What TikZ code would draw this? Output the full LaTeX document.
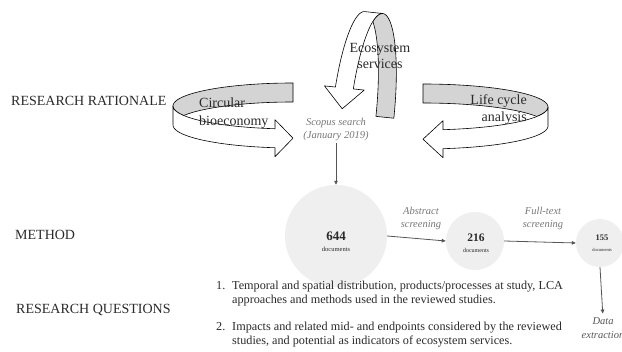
\documentclass[tikz,border=0pt]{standalone}
\usepackage{fontspec}
\setmainfont{Liberation Serif}
\usetikzlibrary{arrows.meta}
\definecolor{bandgray}{HTML}{D4D4D4}
\definecolor{circfill}{HTML}{EFEFEF}
\definecolor{flowgray}{HTML}{555555}
\definecolor{notegray}{HTML}{777777}
\definecolor{inkgray}{HTML}{2A2A2A}
\begin{document}
\begin{tikzpicture}[x=1pt,y=-1pt,
  ribbon/.style={draw=black,line width=0.6pt,line join=round},
  backband/.style={ribbon,fill=bandgray},
  frontband/.style={ribbon,fill=white},
  heading/.style={inner sep=0pt,anchor=base west,text=inkgray,font=\fontsize{14}{16}\selectfont},
  bandlabel/.style={inner sep=0pt,text=inkgray,font=\fontsize{14}{16}\selectfont},
  note/.style={inner sep=0pt,align=center,text=notegray,font=\fontsize{10.5}{13}\selectfont\itshape},
  docs/.style={circle,fill=circfill,inner sep=0pt,minimum size=#1},
  docstext/.style={inner sep=0pt,align=center,text=inkgray},
  flow/.style={draw=flowgray,line width=0.8pt,-{Triangle[length=4pt,width=3.5pt]}},
  qtext/.style={inner sep=0pt,anchor=base west,text=inkgray,font=\fontsize{12.2}{14}\selectfont},
]
\useasboundingbox (0,0) rectangle (622,352);

% ---- Circular bioeconomy ribbon ----
\draw[backband] plot[domain=90:204.4,samples=40,variable=\t] ({293+120*cos(\t)},{106-23*sin(\t)})
  -- plot[domain=155.6:90,samples=30,variable=\t] ({293+120*cos(\t)},{125-23*sin(\t)}) -- cycle;
\draw[frontband] plot[domain=180:261.4,samples=40,variable=\t] ({293+120*cos(\t)},{106-23*sin(\t)})
  -- (275,119.7) -- (293,138.2) -- (275,156.7)
  -- plot[domain=261.4:180,samples=40,variable=\t] ({293+120*cos(\t)},{125-23*sin(\t)}) -- cycle;

% ---- Life cycle analysis ribbon ----
\draw[backband] plot[domain=90:-24.4,samples=40,variable=\t] ({423+125*cos(\t)},{107-23*sin(\t)})
  -- plot[domain=24.4:90,samples=30,variable=\t] ({423+125*cos(\t)},{126-23*sin(\t)}) -- cycle;
\draw[frontband] plot[domain=0:-80.79,samples=40,variable=\t] ({423+125*cos(\t)},{107-23*sin(\t)})
  -- (443,120.7) -- (423,139.2) -- (443,157.7)
  -- plot[domain=-80.79:0,samples=40,variable=\t] ({423+125*cos(\t)},{126-23*sin(\t)}) -- cycle;

% ---- Ecosystem services ribbon ----
\begin{scope}[rotate around={-6:(363,115)}]
\draw[backband] plot[domain=0:114.4,samples=40,variable=\t] ({372+22*cos(\t)},{115-103*sin(\t)})
  -- plot[domain=65.6:0,samples=30,variable=\t] ({354+22*cos(\t)},{115-103*sin(\t)}) -- cycle;
\draw[frontband] plot[domain=90:166,samples=40,variable=\t] ({372+22*cos(\t)},{115-103*sin(\t)})
  -- (361.65,90.1) -- (341.65,111) -- (321.65,90.1)
  -- plot[domain=166:90,samples=40,variable=\t] ({354+22*cos(\t)},{115-103*sin(\t)}) -- cycle;
\end{scope}

% ---- ribbon labels ----
\node[bandlabel,anchor=base west] (cbA) at (199,108) {Circular};
\node[bandlabel,anchor=base west] (cbB) at (199,125.5) {bioeconomy};
\node[bandlabel,anchor=base] (esA) at (380,52.5) {Ecosystem};
\node[bandlabel,anchor=base] (esB) at (380,69) {services};
\node[bandlabel,anchor=base east] (lcA) at (527,105) {Life cycle};
\node[bandlabel,anchor=base east] (lcB) at (527,121.5) {analysis};

% ---- headings ----
\node[heading] (hRR) at (11,106) {RESEARCH RATIONALE};
\node[heading] (hM) at (15,240) {METHOD};
\node[heading] (hRQ) at (16,314) {RESEARCH QUESTIONS};

% ---- method flow ----
\node[note] (scopus) at (336,129) {Scopus search\\(January 2019)};
\node[docs=102pt] (c644) at (336,236) {};
\node[docstext] (t644) at (336,242) {{\fontsize{13}{13}\selectfont\bfseries 644}\\[-1pt]{\fontsize{6.5}{7}\selectfont documents}};
\node[docs=58pt] (c216) at (475,241) {};
\node[docstext] (t216) at (476,243) {{\fontsize{11.5}{12}\selectfont\bfseries 216}\\[-1pt]{\fontsize{6}{7}\selectfont documents}};
\node[docs=48pt] (c155) at (600,243) {};
\node[docstext] (t155) at (602,243) {{\fontsize{8.5}{9}\selectfont\bfseries 155}\\[-1.5pt]{\fontsize{4.5}{5}\selectfont documents}};
\node[note] (abs) at (421,218) {Abstract\\screening};
\node[note] (full) at (543,218) {Full-text\\screening};
\node[note,text=inkgray!80,font=\fontsize{10.5}{13.5}\selectfont\itshape] (data) at (603,328) {Data\\extraction};

\draw[flow,shorten <=3pt] (scopus.south) -- (c644.north);
\draw[flow] (c644.east) -- (c216.west);
\draw[flow] (c216.east) -- (c155.west);
\draw[flow,shorten >=4pt] (c155.south) -- (data.north);

% ---- research questions ----
\node[qtext] (q1n) at (216,290) {1.};
\node[qtext] (q1a) at (232,290) {Temporal and spatial distribution, products/processes at study, LCA};
\node[qtext] (q1b) at (232,303.5) {approaches and methods used in the reviewed studies.};
\node[qtext] (q2n) at (216,331) {2.};
\node[qtext] (q2a) at (232,331) {Impacts and related mid- and endpoints considered by the reviewed};
\node[qtext] (q2b) at (232,344.5) {studies, and potential as indicators of ecosystem services.};
\end{tikzpicture}
\end{document}
